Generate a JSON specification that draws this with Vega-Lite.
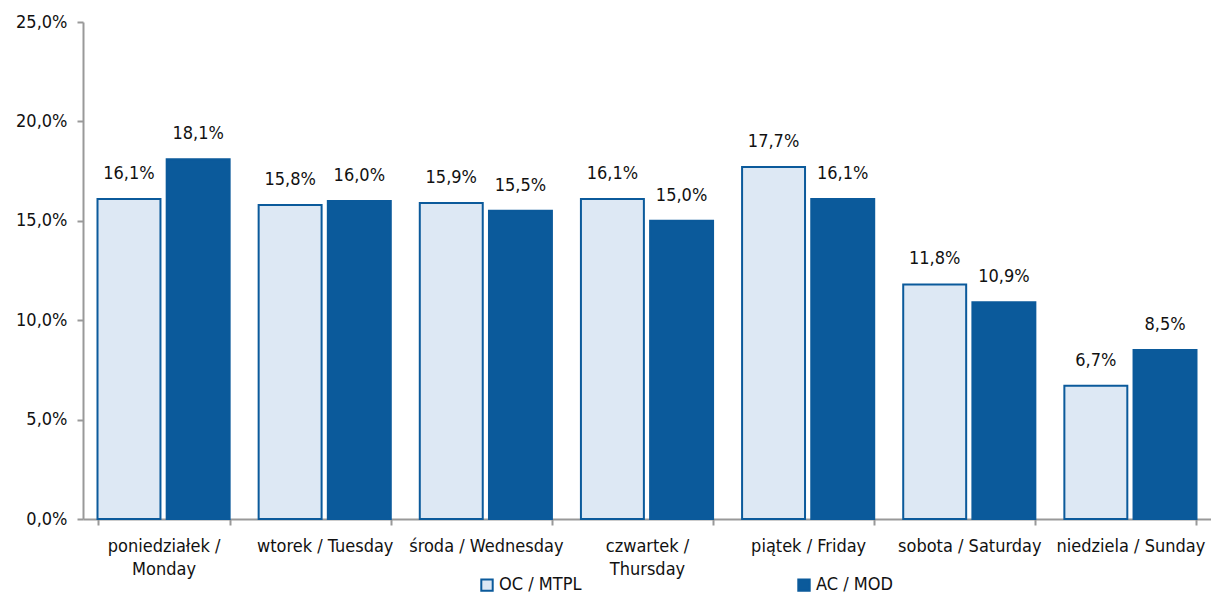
{
  "$schema": "https://vega.github.io/schema/vega-lite/v6.json",
  "width": 1128,
  "height": 497,
  "autosize": {"type": "none"},
  "padding": {"left": 83, "top": 22, "right": 0, "bottom": 76},
  "background": "white",
  "config": {
    "view": {"stroke": null},
    "font": "DejaVu Sans Condensed",
    "text": {"font": "DejaVu Sans Condensed"},
    "locale": {"number": {"decimal": ",", "thousands": " ", "grouping": [3], "currency": ["", " zł"]}}
  },
  "data": {
    "values": [
      {"day": "poniedziałek / Monday", "series": "OC / MTPL", "value": 0.161},
      {"day": "poniedziałek / Monday", "series": "AC / MOD", "value": 0.181},
      {"day": "wtorek / Tuesday", "series": "OC / MTPL", "value": 0.158},
      {"day": "wtorek / Tuesday", "series": "AC / MOD", "value": 0.160},
      {"day": "środa / Wednesday", "series": "OC / MTPL", "value": 0.159},
      {"day": "środa / Wednesday", "series": "AC / MOD", "value": 0.155},
      {"day": "czwartek / Thursday", "series": "OC / MTPL", "value": 0.161},
      {"day": "czwartek / Thursday", "series": "AC / MOD", "value": 0.150},
      {"day": "piątek / Friday", "series": "OC / MTPL", "value": 0.177},
      {"day": "piątek / Friday", "series": "AC / MOD", "value": 0.161},
      {"day": "sobota / Saturday", "series": "OC / MTPL", "value": 0.118},
      {"day": "sobota / Saturday", "series": "AC / MOD", "value": 0.109},
      {"day": "niedziela / Sunday", "series": "OC / MTPL", "value": 0.067},
      {"day": "niedziela / Sunday", "series": "AC / MOD", "value": 0.085}
    ]
  },
  "encoding": {
    "x": {
      "field": "day",
      "type": "nominal",
      "sort": null,
      "scale": {"paddingInner": 0.18, "paddingOuter": 0.09},
      "axis": {
        "title": null,
        "labelAngle": 0,
        "labelFontSize": 18,
        "labelColor": "#111",
        "labelPadding": 12,
        "labelLineHeight": 23,
        "labelLimit": 0,
        "domainColor": "#999",
        "domainWidth": 2,
        "tickColor": "#999",
        "tickWidth": 2,
        "tickSize": 6,
        "tickBand": "extent",
        "labelExpr": "datum.label == 'poniedziałek / Monday' ? ['poniedziałek /', 'Monday'] : datum.label == 'czwartek / Thursday' ? ['czwartek /', 'Thursday'] : datum.label"
      }
    },
    "xOffset": {
      "field": "series",
      "type": "nominal",
      "sort": ["OC / MTPL", "AC / MOD"],
      "scale": {"paddingInner": 0.09}
    },
    "y": {
      "field": "value",
      "type": "quantitative",
      "scale": {"domain": [0, 0.25]},
      "axis": {
        "title": null,
        "values": [0, 0.05, 0.1, 0.15, 0.2, 0.25],
        "format": ".1%",
        "grid": false,
        "labelFontSize": 18,
        "labelColor": "#111",
        "labelPadding": 10,
        "domainColor": "#999",
        "domainWidth": 2,
        "tickColor": "#999",
        "tickWidth": 2,
        "tickSize": 6
      }
    }
  },
  "layer": [
    {
      "mark": {"type": "bar", "stroke": "#0b5a9b", "strokeWidth": 2},
      "encoding": {
        "color": {
          "field": "series",
          "type": "nominal",
          "sort": ["OC / MTPL", "AC / MOD"],
          "scale": {"domain": ["OC / MTPL", "AC / MOD"], "range": ["#dde8f4", "#0b5a9b"]},
          "legend": {
            "title": null,
            "orient": "none",
            "direction": "horizontal",
            "legendX": 395,
            "legendY": 554,
            "symbolType": "square",
            "symbolSize": 130,
            "symbolStrokeColor": "#0b5a9b",
            "symbolStrokeWidth": 2,
            "labelFontSize": 18,
            "labelColor": "#111",
            "labelOffset": 3,
            "columnPadding": 212
          }
        }
      }
    },
    {
      "mark": {"type": "text", "baseline": "alphabetic", "dy": -20, "fontSize": 18, "color": "#111"},
      "encoding": {
        "text": {"field": "value", "type": "quantitative", "format": ".1%"}
      }
    }
  ]
}
